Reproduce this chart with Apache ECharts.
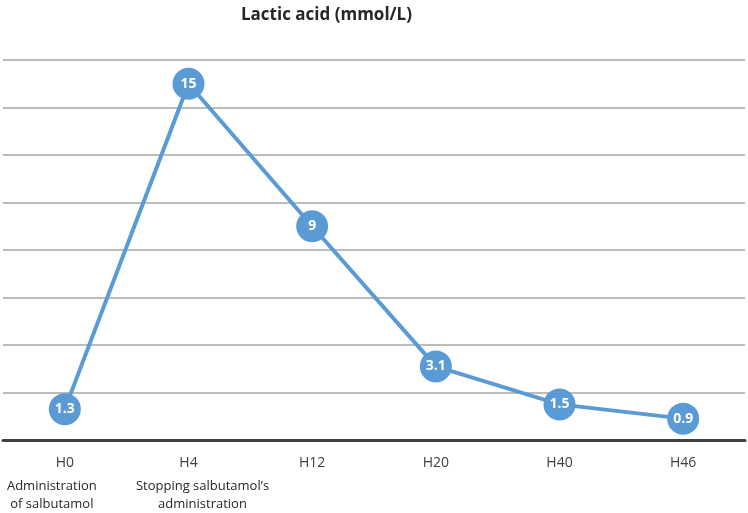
<!DOCTYPE html>
<html>
<head>
<meta charset="utf-8">
<script src="https://cdn.jsdelivr.net/npm/echarts@6/dist/echarts.min.js"></script>
<style>
  html, body { margin: 0; padding: 0; background: #fff; }
  #main { width: 748px; height: 513px; }
</style>
</head>
<body>
<div id="main"></div>
<script>
var hours = ['H0', 'H4', 'H12', 'H20', 'H40', 'H46'];
var notes = ['Administration\nof salbutamol', 'Stopping salbutamol\u2019s\nadministration', '', '', '', ''];
var lactate = [1.3, 15, 9, 3.1, 1.5, 0.9];

var myChart = echarts.init(document.getElementById('main'));
var option = {
    backgroundColor: '#fff',
    title: {
        text: 'Lactic acid (mmol/L)',
        left: 236,
        top: 2,
        textStyle: {
            fontFamily: 'Open Sans',
            fontSize: 17,
            fontWeight: 'bold',
            color: '#262626'
        }
    },
    grid: {
        left: 3,
        right: 3,
        top: 60,
        bottom: 72
    },
    xAxis: {
        type: 'category',
        data: hours,
        axisTick: { show: false },
        axisLine: {
            lineStyle: { color: '#404040', width: 3 }
        },
        axisLabel: {
            interval: 0,
            margin: 13,
            fontFamily: 'Open Sans',
            fontSize: 14,
            color: '#404040',
            lineHeight: 20,
            formatter: function (v, i) {
                if (!notes[i]) return v;
                var cls = i === 0 ? 'n0' : 'n1';
                return v + '\n{gap|}\n' + notes[i].split('\n').map(function (s) {
                    return '{' + cls + '|' + s + '}';
                }).join('\n');
            },
            rich: {
                gap: { height: 4, lineHeight: 4 },
                n0: {
                    fontFamily: 'Open Sans', fontSize: 13, color: '#262626',
                    lineHeight: 18, padding: [0, 26, 0, 0]
                },
                n1: {
                    fontFamily: 'Open Sans', fontSize: 13, color: '#262626',
                    lineHeight: 18, padding: [0, 0, 0, 28]
                }
            }
        }
    },
    yAxis: {
        type: 'value',
        min: 0,
        max: 16,
        interval: 2,
        axisLabel: { show: false },
        axisLine: { show: false },
        axisTick: { show: false },
        splitLine: {
            lineStyle: { color: '#a6a6a6', width: 1.5 }
        }
    },
    series: [{
        type: 'line',
        data: lactate,
        symbol: 'circle',
        symbolSize: 32,
        lineStyle: { color: '#5b9bd5', width: 4 },
        itemStyle: { color: '#5b9bd5' },
        label: {
            show: true,
            position: 'inside',
            color: '#fff',
            fontFamily: 'Open Sans',
            fontWeight: 'bold',
            fontSize: 14
        },
        z: 3
    }]
};
myChart.setOption(option);
</script>
</body>
</html>
